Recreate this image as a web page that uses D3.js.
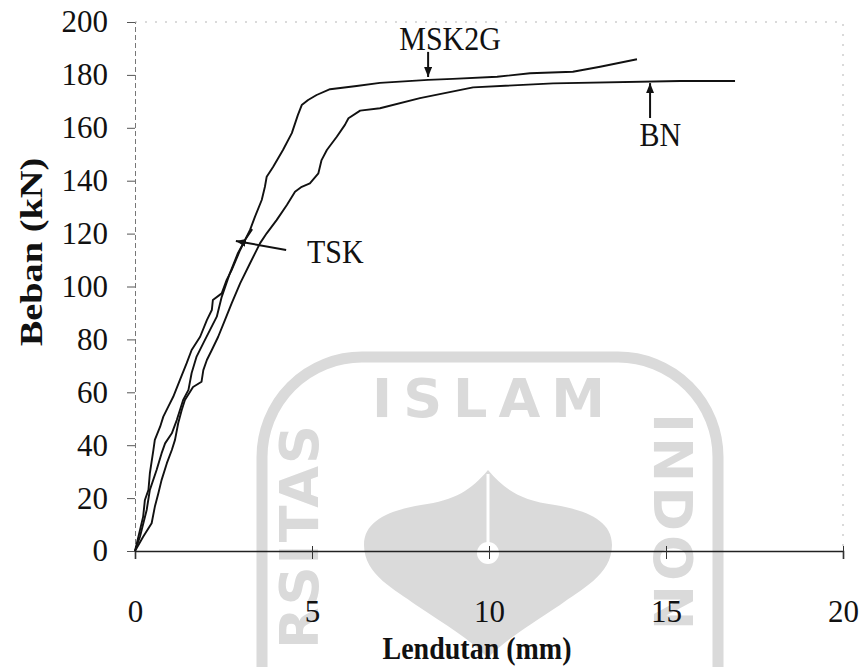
<!DOCTYPE html>
<html>
<head>
<meta charset="utf-8">
<script src="https://cdn.jsdelivr.net/npm/d3@7"></script>
<style>
  html, body { margin: 0; padding: 0; background: #fff; }
  svg { display: block; }
  text { font-family: "Liberation Serif", "Times New Roman", Times, serif; fill: #111; }
</style>
</head>
<body>
<svg id="chart" width="862" height="667"></svg>
<script>
// load test data
const xTicks = [0, 5, 10, 15, 20]
const yTicks = [0, 20, 40, 60, 80, 100, 120, 140, 160, 180, 200]

const msk2gX = [0, 0.14, 0.23, 0.28, 0.38, 0.42, 0.52, 0.56, 0.71, 0.80, 0.94, 1.08, 1.27, 1.46, 1.60, 1.84, 2.03, 2.17, 2.20, 2.45,
  2.59, 2.73, 2.97, 3.11, 3.25, 3.39, 3.58, 3.67, 3.72, 3.90, 4.18, 4.43, 4.60, 4.71, 4.89, 5.13, 5.51, 6.26, 6.92, 8.28,
  8.98, 10.23, 11.16, 12.37, 13.14, 14.18]
const msk2gY = [0, 7.9, 13.0, 19.3, 23.1, 29.4, 38.2, 42.0, 47.0, 50.8, 54.6, 58.3, 64.7, 71.0, 76.0, 81.0, 87.3, 91.1, 94.9, 97.4,
  102.5, 106.2, 113.8, 117.6, 121.4, 126.4, 132.7, 137.7, 141.5, 145.2, 151.6, 158.0, 164.8, 168.6, 170.5, 172.4, 174.6, 175.8, 177.0, 178.1,
  178.5, 179.3, 180.6, 181.2, 183.1, 185.9]

const bnX = [0, 0.23, 0.47, 0.56, 0.66, 0.75, 0.90, 1.04, 1.13, 1.22, 1.32, 1.41, 1.64, 1.88, 1.93, 2.03, 2.17, 2.35, 2.54, 2.73,
  2.97, 3.25, 3.53, 3.72, 4.00, 4.29, 4.52, 4.71, 4.94, 5.18, 5.27, 5.42, 5.70, 5.93, 6.03, 6.36, 6.92, 8.05, 9.55, 11.81,
  15.40, 16.95]
const bnY = [0, 5.4, 10.5, 16.7, 21.8, 26.8, 33.2, 38.2, 42.0, 48.3, 53.3, 57.1, 62.0, 64.0, 68.4, 72.2, 76.0, 81.0, 87.3, 93.6,
  101.2, 108.8, 116.3, 120.1, 125.1, 130.8, 135.8, 137.7, 139.0, 142.8, 147.8, 151.6, 156.6, 161.1, 163.6, 166.5, 167.4, 171.2, 175.3, 176.8,
  177.7, 177.7]

const tskX = [0, 0.14, 0.33, 0.42, 0.61, 0.75, 0.85, 1.04, 1.18, 1.27, 1.36, 1.51, 1.60, 1.74, 1.93, 2.12, 2.31, 2.45, 2.68, 2.91, 3.14, 3.31]
const tskY = [0, 5.4, 15.5, 23.1, 30.6, 36.9, 40.7, 44.5, 49.5, 53.3, 57.1, 60.9, 67.3, 73.5, 78.6, 83.6, 88.6, 96.1, 105.0, 112.7, 118.3, 121.7]

// curve labels: text anchor and arrow (data units)
const labelText = ['MSK2G', 'BN', 'TSK']
const labelX = [8.9, 14.84, 4.86]
const labelY = [189.4, 153.1, 108.9]
const arrowFromX = [8.28, 14.55, 4.27]
const arrowFromY = [188.7, 163.7, 113.8]
const arrowToX = [8.28, 14.55, 2.85]
const arrowToY = [179.2, 176.9, 117.2]

const SERIF = '"Liberation Serif", "Times New Roman", Times, serif'
const WM_GREY = '#dadada'

const svg = d3.select('#chart')

const x = d3.scaleLinear().domain([0, 20]).range([135, 843])
const y = d3.scaleLinear().domain([0, 200]).range([551, 22])

// scanned text is a bit taller than it is wide
const stretch = (sy) => `scale(1, ${sy})`

// watermark of the scanned page (decoration only)
const wm = svg.append('g').attr('fill', WM_GREY).attr('stroke', 'none')
wm.append('rect')
  .attr('x', 262).attr('y', 357).attr('width', 456).attr('height', 460)
  .attr('rx', 100).attr('ry', 100)
  .attr('fill', 'none').attr('stroke', WM_GREY).attr('stroke-width', 11)

const wmText = (t, transform, spacing, anchor) => wm.append('text')
  .attr('transform', transform)
  .attr('text-anchor', anchor)
  .attr('font-family', '"DejaVu Sans", sans-serif')
  .style('font-family', '"DejaVu Sans", sans-serif')
  .style('font-size', '54px')
  .style('font-weight', 'bold')
  .style('letter-spacing', spacing)
  .style('fill', WM_GREY)
  .text(t)

wmText('ISLAM', 'translate(494, 417)', '11px', 'middle')
wmText('RSITAS', 'translate(318, 536) rotate(-90)', '2px', 'middle')
wmText('INDON', 'translate(654, 413) rotate(90)', '4px', 'start')

wm.append('path')
  .attr('d', 'M488,470 C505,490 520,500 555,505 C585,510 612,520 612,545 C612,575 580,590 560,605 C530,625 505,640 488,658 C471,640 446,625 416,605 C396,590 364,575 364,545 C364,520 391,510 421,505 C456,500 471,490 488,470 Z')
wm.append('line')
  .attr('x1', 488).attr('x2', 488).attr('y1', 474).attr('y2', 545)
  .attr('stroke', '#fff').attr('stroke-width', 3)
wm.append('circle').attr('cx', 488).attr('cy', 553).attr('r', 11).attr('fill', '#fff')

// faint plot frame (top and right)
svg.append('path')
  .attr('d', `M${x(0)},${y(200)}H${x(20)}V${y(0)}`)
  .attr('fill', 'none')
  .attr('stroke', '#b5b5b5')
  .attr('stroke-width', 1)
  .attr('stroke-dasharray', '2,8')

// y axis
const yAxis = svg.append('g')
  .attr('transform', `translate(${x(0)},0)`)
  .call(d3.axisLeft(y).tickValues(yTicks).tickSize(8).tickPadding(19))
yAxis.attr('font-family', SERIF)
yAxis.select('.domain').attr('stroke', '#777').attr('stroke-dasharray', '5,3')
yAxis.selectAll('.tick line').attr('stroke', '#555')
yAxis.selectAll('.tick text')
  .attr('fill', '#111')
  .attr('font-family', SERIF)
  .style('font-family', SERIF)
  .style('font-size', '31px')

// x axis
const xAxis = svg.append('g')
  .attr('transform', `translate(0,${y(0)})`)
  .call(d3.axisBottom(x).tickValues(xTicks).tickSize(8))
xAxis.attr('font-family', SERIF)
xAxis.select('.domain').attr('stroke', '#222').attr('stroke-width', 1.6)
xAxis.selectAll('.tick line').attr('y1', -5).attr('stroke', '#333')
xAxis.selectAll('.tick text')
  .attr('y', 0).attr('dy', '0.35em')
  .attr('transform', 'translate(0, 60)')
  .attr('fill', '#111')
  .attr('font-family', SERIF)
  .style('font-family', SERIF)
  .style('font-size', '31px')

// axis titles
svg.append('text')
  .attr('transform', `translate(477, 659) ${stretch(1.12)}`)
  .attr('text-anchor', 'middle')
  .attr('font-family', SERIF)
  .style('font-size', '28px')
  .style('font-weight', 'bold')
  .text('Lendutan (mm)')

svg.append('text')
  .attr('transform', `translate(42, 252) ${stretch(1.2)} rotate(-90)`)
  .attr('text-anchor', 'middle')
  .attr('font-family', SERIF)
  .style('font-size', '32px')
  .style('font-weight', 'bold')
  .text('Beban (kN)')

// curves
const series = [
  { name: 'MSK2G', xs: msk2gX, ys: msk2gY },
  { name: 'BN', xs: bnX, ys: bnY },
  { name: 'TSK', xs: tskX, ys: tskY }
]
const line = d3.line().x(d => x(d[0])).y(d => y(d[1]))

svg.append('g').selectAll('path')
  .data(series)
  .join('path')
  .attr('d', s => line(s.xs.map((v, i) => [v, s.ys[i]])))
  .attr('fill', 'none')
  .attr('stroke', '#111')
  .attr('stroke-width', 1.9)
  .attr('stroke-linejoin', 'round')

// labels with arrows
svg.append('defs').append('marker')
  .attr('id', 'head')
  .attr('viewBox', '0 0 10 8')
  .attr('refX', 10).attr('refY', 4)
  .attr('markerWidth', 10).attr('markerHeight', 8)
  .attr('markerUnits', 'userSpaceOnUse')
  .attr('orient', 'auto')
  .append('path')
  .attr('d', 'M0,0 L10,4 L0,8 Z')
  .attr('fill', '#111')

const anchors = ['middle', 'middle', 'start']
labelText.forEach((t, i) => {
  svg.append('line')
    .attr('x1', x(arrowFromX[i])).attr('y1', y(arrowFromY[i]))
    .attr('x2', x(arrowToX[i])).attr('y2', y(arrowToY[i]))
    .attr('stroke', '#111')
    .attr('stroke-width', 2)
    .attr('marker-end', 'url(#head)')

  svg.append('text')
    .attr('transform', `translate(${x(labelX[i])}, ${y(labelY[i])}) ${stretch(1.12)}`)
    .attr('text-anchor', anchors[i])
    .attr('font-family', SERIF)
    .style('font-size', '30px')
    .text(t)
})
</script>
</body>
</html>
